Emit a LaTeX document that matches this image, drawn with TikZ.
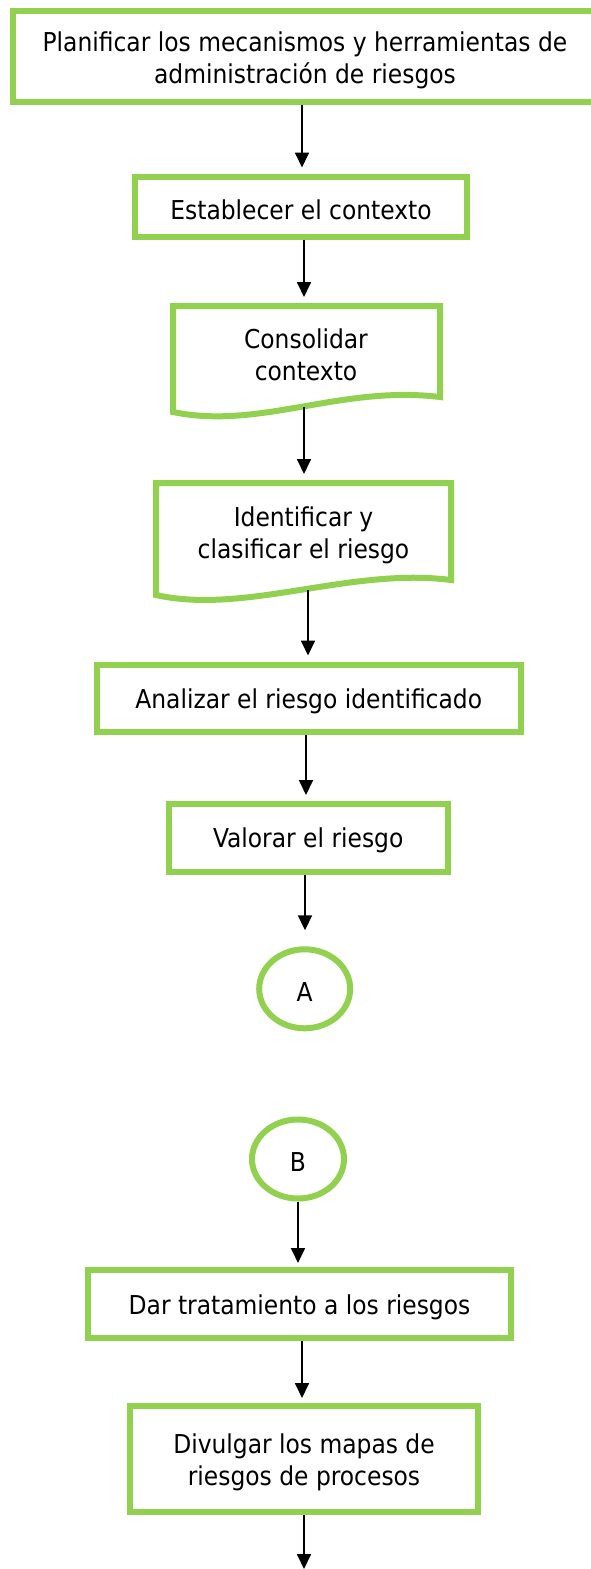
\documentclass[tikz,border=0pt]{standalone}
\usepackage{fontspec}
\setmainfont{DejaVu Sans Condensed}
\usetikzlibrary{arrows.meta,shapes.geometric}
\definecolor{lgreen}{HTML}{92D050}
\newcommand{\low}[2][3pt]{\raisebox{-#1}[\height][\depth]{#2}}
\tikzset{
  box/.style={draw=lgreen, line width=6pt, rectangle, inner sep=0pt, align=center, text=black},
  oval/.style={draw=lgreen, line width=6pt, ellipse, inner sep=0pt, minimum width=91pt, minimum height=79pt, text=black},
  docshape/.style={draw=lgreen, line width=6pt, line join=miter},
  txt/.style={inner sep=0pt, align=center, text=black},
  arr/.style={draw=black, line width=1.8pt, -{Triangle[width=14pt,length=15pt]}, shorten >=6pt}
}
\begin{document}
\begin{tikzpicture}[x=1pt,y=-1pt, font=\fontsize{26}{32}\selectfont]
\useasboundingbox (0,0) rectangle (590,1569);
\fill[white] (0,0) rectangle (590,1569);

\node[box, minimum width=584pt, minimum height=90.5pt] (n1) at (305,56.25)
  {\low[4pt]{\parbox{560pt}{\centering Planificar los mecanismos y herramientas de\\administración de riesgos}}};
\node[box, minimum width=332pt, minimum height=60pt] (n2) at (301,206.5)
  {\low{Establecer el contexto}};

% document shape 1
\draw[docshape] (173,306) -- (440,306) -- (440,397)
  .. controls (340,385) and (260,430) .. (173,412) -- cycle;
\node[txt] (n3) at (306,355) {Consolidar\\contexto};
\coordinate (t3) at (304,303);
\coordinate (w3) at (304,407);

% document shape 2
\draw[docshape] (156,483) -- (451,483) -- (451,580)
  .. controls (350,567) and (245,615) .. (156,595) -- cycle;
\node[txt] (n4) at (303.5,535) {Identificar y\\clasificar el riesgo};
\coordinate (t4) at (304,480);
\coordinate (w4) at (308,590);

\node[box, minimum width=423.5pt, minimum height=67.5pt] (n5) at (308.75,698.25)
  {\low{Analizar el riesgo identificado}};
\node[box, minimum width=279.5pt, minimum height=67.5pt] (n6) at (308.25,837.75)
  {\low{Valorar el riesgo}};
\node[oval] (A) at (304.7,988.8) {\low{A}};

\node[oval, minimum width=92pt] (B) at (298,1159) {\low{B}};
\node[box, minimum width=423pt, minimum height=68pt] (n7) at (299.5,1304)
  {\low{Dar tratamiento a los riesgos}};
\node[box, minimum width=348pt, minimum height=106pt] (n8) at (304,1459)
  {\low{\parbox{330pt}{\centering Divulgar los mapas de\\riesgos de procesos}}};
\coordinate (end) at (304,1569);

\draw[arr] (n1.south -| 302,0) -- (n2.north -| 302,0);
\draw[arr] (n2.south -| 304,0) -- (t3);
\draw[arr] (w3) -- (t4);
\draw[arr] (w4) -- (n5.north -| 308,0);
\draw[arr] (n5.south -| 306,0) -- (n6.north -| 306,0);
\draw[arr, shorten >=16pt] (n6.south -| 305,0) -- (A.north -| 305,0);
\draw[arr, shorten >=4pt] (B.south) -- (n7.north -| 298,0);
\draw[arr, shorten >=5pt] (n7.south -| 302,0) -- (n8.north -| 302,0);
\draw[arr, shorten >=0pt] (n8.south -| 304,0) -- (end);
\end{tikzpicture}
\end{document}
